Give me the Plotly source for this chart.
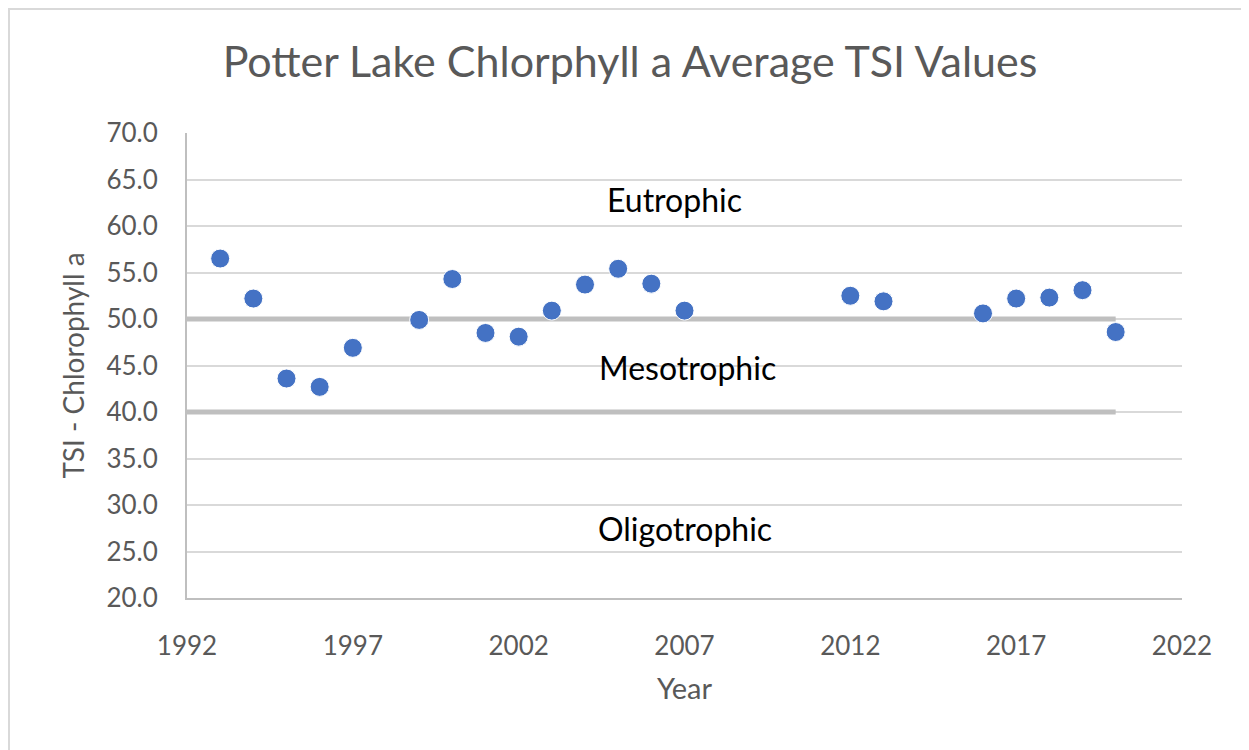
import plotly.graph_objects as go

years = [1993, 1994, 1995, 1996, 1997, 1999, 2000, 2001, 2002, 2003, 2004, 2005,
         2006, 2007, 2012, 2013, 2016, 2017, 2018, 2019, 2020]
tsi = [56.5, 52.2, 43.6, 42.7, 46.9, 49.9, 54.3, 48.5, 48.1, 50.9, 53.7, 55.4,
       53.8, 50.9, 52.5, 51.9, 50.6, 52.2, 52.3, 53.1, 48.6]

boundary_years = [1992, 2020]
eutrophic_boundary = [50, 50]
oligotrophic_boundary = [40, 40]

zone_labels = ["Eutrophic", "Mesotrophic", "Oligotrophic"]
zone_label_x = [2006.7, 2007.1, 2007.0]
zone_label_y = [62.8, 44.8, 27.5]

x_ticks = [1992, 1997, 2002, 2007, 2012, 2017, 2022]
y_ticks = [20, 25, 30, 35, 40, 45, 50, 55, 60, 65, 70]

FONT = "Lato"
GRAY = "#595959"

# page has an 8px body margin; compensate
W, H = 1241, 742
L, T = 179, 125
PW, PH = 995, 465

fig = go.Figure()
for yb in (eutrophic_boundary, oligotrophic_boundary):
    fig.add_trace(go.Scatter(x=boundary_years, y=yb, mode="lines",
                             line=dict(color="#bfbfbf", width=5),
                             hoverinfo="skip", showlegend=False))

fig.add_trace(go.Scatter(x=years, y=tsi, mode="markers",
                         marker=dict(color="#4472C4", size=19,
                                     line=dict(color="white", width=1)),
                         showlegend=False))

for t, xx, yy in zip(zone_labels, zone_label_x, zone_label_y):
    fig.add_annotation(x=xx, y=yy, text=t, showarrow=False,
                       font=dict(family=FONT, size=32, color="#000000"))

fig.add_shape(type="rect", xref="paper", yref="paper",
              x0=(1 - L) / PW, x1=1.3, y0=-0.5, y1=(PH + T - 1) / PH,
              line=dict(color="#d9d9d9", width=2), fillcolor="rgba(0,0,0,0)")

fig.update_layout(
    width=W, height=H,
    margin=dict(l=L, r=W - L - PW, t=T, b=H - T - PH),
    paper_bgcolor="white", plot_bgcolor="white",
    title=dict(text="Potter Lake Chlorphyll a Average TSI Values",
               x=(630 - 8) / W, xanchor="center", y=1 - (62 - 8) / H, yanchor="middle",
               font=dict(family=FONT, size=43, color=GRAY)),
    xaxis=dict(range=[1992, 2022], tickvals=x_ticks, showgrid=False,
               zeroline=False, showline=True, linecolor="#bfbfbf", linewidth=2,
               ticks="outside", ticklen=24, tickcolor="rgba(0,0,0,0)",
               tickfont=dict(family=FONT, size=26, color=GRAY),
               title=dict(text="Year", standoff=18,
                          font=dict(family=FONT, size=29, color=GRAY))),
    yaxis=dict(range=[20, 70], tickvals=y_ticks, tickformat=".1f",
               showgrid=True, gridcolor="#d9d9d9", gridwidth=2,
               zeroline=False, showline=True, linecolor="#bfbfbf", linewidth=2,
               ticks="outside", ticklen=22, tickcolor="rgba(0,0,0,0)",
               tickfont=dict(family=FONT, size=26, color=GRAY),
               title=dict(text="TSI - Chlorophyll a", standoff=14,
                          font=dict(family=FONT, size=28, color=GRAY))),
    font=dict(family=FONT),
)

fig.write_html("out.html")
